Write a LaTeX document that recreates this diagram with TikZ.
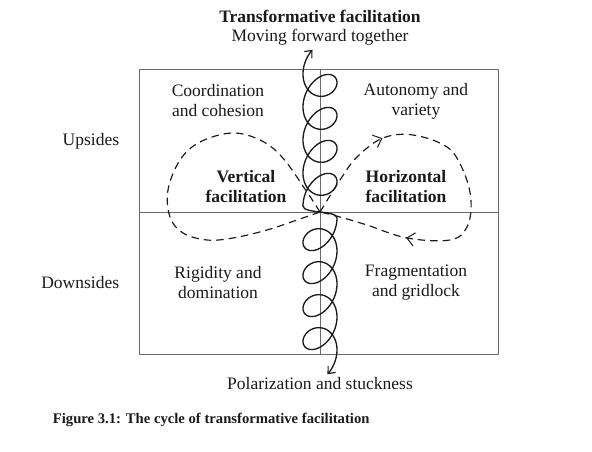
\documentclass[tikz,border=0pt]{standalone}
\usepackage{fontspec}
\setmainfont{Liberation Serif}
\usepackage{xcolor}
\usepackage{tikz}
\usetikzlibrary{arrows.meta,decorations.markings}
\definecolor{framegray}{HTML}{6A6A6A}
\definecolor{inkblack}{HTML}{1A1A1A}

\begin{document}
\begin{tikzpicture}[x=0.6pt,y=0.6pt,
  quadtext/.style={align=center,font=\fontsize{10.5}{12}\selectfont,text=inkblack},
  sidetext/.style={anchor=east,font=\fontsize{10.5}{12}\selectfont,text=inkblack},
  boldtext/.style={quadtext,font=\fontsize{10.5}{12}\selectfont\bfseries},
  frameline/.style={framegray,line width=0.6pt},
  loopline/.style={inkblack,line width=0.7pt,dash pattern=on 4.5pt off 3pt},
  coilline/.style={inkblack,line width=0.8pt},
  flowtip/.tip={Straight Barb[length=4.5pt,width=8pt,line width=0.6pt]},
  cointip/.tip={Straight Barb[length=3.5pt,width=6pt,line width=0.7pt]}]
  \useasboundingbox (-320,-240) rectangle (272,212);
  % frame, 1 unit = 1 px of the figure, centre of the cross at (0,0)
  \draw[frameline] (-180,-143) rectangle (179,142);
  \draw[frameline,line width=0.5pt] (-180,0) -- (179,0);
  \draw[frameline,line width=0.5pt] (0,-143) -- (0,142);
  % figure-eight cycle
  \draw[loopline] plot[smooth,tension=0.6] coordinates {(0,0) (-13,20) (-38,55) (-60,72) (-88,79) (-120,70) (-140,52) (-152,22) (-150,-5) (-137,-21) (-113,-28) (-87,-26) (-53,-18) (-23,-8) (0,0)};
  \draw[loopline,postaction={decorate},decoration={markings,
      mark=at position 0.24 with {\arrow{flowtip}},
      mark=at position 0.78 with {\arrow{flowtip}}}]
    plot[smooth,tension=0.6] coordinates {(0,0) (20,32) (37,55) (63,74) (93,77) (127,65) (143,42) (151,12) (147,-15) (130,-28) (87,-26) (47,-13) (20,-5) (0,0)};
  % coil, lower half is the upper half turned about the centre
  \draw[coilline,cointip-cointip]
    plot[domain=27.82:1.5708,samples=300,smooth] ({17*sin(\x r)},{-6-5.25*(\x-1.5708)+18*cos(\x r)-4*(1-sin(\x r))})
    .. controls (17,2) and (-17,-2) .. (-17,6)
    -- plot[domain=1.5708:27.82,samples=300,smooth] ({-17*sin(\x r)},{6+5.25*(\x-1.5708)-18*cos(\x r)+4*(1-sin(\x r))});
  % texts
  \node[boldtext] (title) at (0,196) {Transformative facilitation};
  \node[quadtext] (forward) at (0,175) {Moving forward together};
  \node[quadtext] (stuck) at (0,-172) {Polarization and stuckness};
  \node[sidetext] (upsides) at (-195,71) {Upsides};
  \node[sidetext] (downsides) at (-195,-71) {Downsides};
  \node[quadtext] (coord) at (-102,111) {Coordination\\and cohesion};
  \node[quadtext] (autonomy) at (96,111) {Autonomy and\\variety};
  \node[boldtext] (vertical) at (-74,25) {Vertical\\facilitation};
  \node[boldtext] (horizontal) at (86,25) {Horizontal\\facilitation};
  \node[quadtext] (rigidity) at (-102,-71) {Rigidity and\\domination};
  \node[quadtext] (fragment) at (96,-71) {Fragmentation\\and gridlock};
  \node[anchor=west,font=\fontsize{8.8}{10}\selectfont\bfseries,text=inkblack] (caption) at (-273,-208) {Figure 3.1: The cycle of transformative facilitation};
\end{tikzpicture}
\end{document}
